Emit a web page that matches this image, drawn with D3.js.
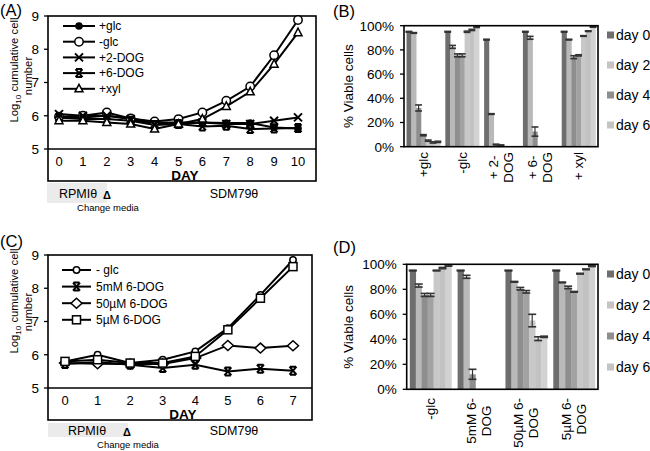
<!DOCTYPE html>
<html><head><meta charset="utf-8">
<script src="https://cdn.jsdelivr.net/npm/d3@7/dist/d3.min.js"></script>
<style>body{margin:0;background:#fff}svg{display:block;font-family:"Liberation Sans",Arial,sans-serif}</style>
</head><body><svg id="c" width="650" height="451"></svg>
<script>
// ---------- DATA ----------
// Panel A: log10 cumulative cell number vs day
const daysA = [0,1,2,3,4,5,6,7,8,9,10];
const namesA = ["+glc","-glc","+2-DOG","+6-DOG","+xyl"];
const aGlcPlus  = [5.95,5.95,6.0,5.92,5.8,5.8,5.8,5.78,5.78,5.65,5.62];
const aGlcMinus = [5.97,6.0,6.1,5.92,5.83,5.9,6.1,6.45,6.88,7.82,8.88];
const a2DOG     = [6.05,6.0,6.0,5.9,5.75,5.75,5.8,5.75,5.75,5.85,5.95];
const a6DOG     = [5.95,5.9,5.9,5.85,5.72,5.75,5.68,5.7,5.6,5.62,5.63];
const aXyl      = [5.85,5.85,5.8,5.75,5.6,5.75,5.9,6.28,6.72,7.55,8.5];
const yTicksLine = [5,6,7,8,9];

// Panel C
const daysC = [0,1,2,3,4,5,6,7];
const namesC = ["- glc","5mM  6-DOG","50µM 6-DOG","5µM 6-DOG"];
const cGlcMinus = [5.8,6.0,5.75,5.85,6.1,6.8,7.8,8.85];
const c5mM      = [5.72,5.78,5.7,5.6,5.7,5.5,5.58,5.52];
const c50uM     = [5.75,5.73,5.72,5.72,5.9,6.28,6.2,6.27];
const c5uM      = [5.8,5.85,5.75,5.75,5.95,6.75,7.7,8.65];

// Panel B: % viable cells, series = day 0..6 (one value per category)
const catsB = [["+glc"],["-glc"],["+ 2-","DOG"],["+ 6-","DOG"],["+ xyl"]];
const bDay0 = [95,95,88.5,95,95];
const bDay1 = [94,82.5,27,90,88.5];
const bDay2 = [32,75.5,1.8,12.5,74];
const bDay3 = [9.5,75.5,1.2,0,75.5];
const bDay4 = [5,95,0,0,91.5];
const bDay5 = [3.5,96.5,0,0,95.5];
const bDay6 = [4,99,0,0,99];
const bErr0 = [0.3,0.3,0.3,0.3,0.3];
const bErr1 = [0.3,1.2,0.3,1.2,0.3];
const bErr2 = [2.5,1.2,0.3,3.8,1.2];
const bErr3 = [0.5,1.2,0.3,0,0.5];
const bErr4 = [0.5,0.5,0,0,0.3];
const bErr5 = [0.5,0.5,0,0,0.3];
const bErr6 = [0.5,0.5,0,0,0.3];

// Panel D
const catsD = [["-glc"],["5mM 6-","DOG"],["50µM 6-","DOG"],["5µM 6-","DOG"]];
const dDay0 = [95,95,95,95];
const dDay1 = [83,90,86,85.5];
const dDay2 = [75.5,12,80.5,81.5];
const dDay3 = [75.5,0,78,78];
const dDay4 = [95,0,55,92.5];
const dDay5 = [97,0,40.5,96];
const dDay6 = [99,0,42,98.5];
const dErr0 = [0.3,0.3,0.3,0.3];
const dErr1 = [1.2,1.2,0.3,0.3];
const dErr2 = [1.2,4,1,1];
const dErr3 = [1.2,0,1,0.3];
const dErr4 = [0.3,0,5,0.3];
const dErr5 = [0.5,0,1.5,0.3];
const dErr6 = [0.5,0,0.5,0.3];

const legendDays = ["day 0","day 2","day 4","day 6"];
const yTicksBar = [0,20,40,60,80,100];

// ---------- STYLES ----------
const barColors = ["#6e6e6e","#b9b9b9","#8e8e8e","#a2a2a2","#c8c8c8","#c2c2c2","#d2d2d2"];
const legendColors = ["#6e6e6e","#c4c4c4","#8e8e8e","#c4c4c4"];

const svg = d3.select("#c");

function marker(g, type, x, y){
  const s = "#000";
  if(type==="fcircle") g.append("circle").attr("cx",x).attr("cy",y).attr("r",3.8).attr("fill",s);
  else if(type==="ocircle") g.append("circle").attr("cx",x).attr("cy",y).attr("r",4.2).attr("fill","#fff").attr("stroke",s).attr("stroke-width",1.5);
  else if(type==="scircle") g.append("circle").attr("cx",x).attr("cy",y).attr("r",3.2).attr("fill","#fff").attr("stroke",s).attr("stroke-width",1.5);
  else if(type==="x") g.append("path").attr("d",`M${x-4},${y-4}L${x+4},${y+4}M${x-4},${y+4}L${x+4},${y-4}`).attr("stroke",s).attr("stroke-width",2).attr("fill","none");
  else if(type==="xbar") g.append("path").attr("d",`M${x-3.5},${y-4}L${x+3.5},${y+4}M${x-3.5},${y+4}L${x+3.5},${y-4}M${x-3},${y-4}L${x+3},${y-4}M${x-3},${y+4}L${x+3},${y+4}`).attr("stroke",s).attr("stroke-width",2).attr("fill","none");
  else if(type==="tri") g.append("path").attr("d",`M${x},${y-4.5}L${x+4},${y+3}L${x-4},${y+3}Z`).attr("fill","#fff").attr("stroke",s).attr("stroke-width",1.5);
  else if(type==="square") g.append("rect").attr("x",x-4).attr("y",y-4).attr("width",8).attr("height",8).attr("fill","#fff").attr("stroke",s).attr("stroke-width",1.5);
  else if(type==="diamond") g.append("path").attr("d",`M${x},${y-5}L${x+5.5},${y}L${x},${y+5}L${x-5.5},${y}Z`).attr("fill","#fff").attr("stroke",s).attr("stroke-width",1.5);
}

function ytitleLine(g, cx1, cy1, cx2, cy2){
  const t = g.append("text").attr("transform",`translate(${cx1},${cy1}) rotate(-90)`)
    .attr("text-anchor","middle").attr("dy","0.35em").attr("font-size",11.3);
  t.append("tspan").text("Log");
  t.append("tspan").attr("font-size",8).attr("dy","3").text("10");
  t.append("tspan").attr("dy","-3").text(" cumulative cell");
  g.append("text").attr("transform",`translate(${cx2},${cy2}) rotate(-90)`)
    .attr("text-anchor","middle").attr("dy","0.35em").attr("font-size",11.3).text("number");
}

function drawLine(cfg){
  const g = svg.append("g");
  const x = d3.scaleLinear().domain(d3.extent(cfg.days)).range(cfg.xr);
  const y = d3.scaleLinear().domain([5,9]).range([cfg.axisY, cfg.top]);
  // frame
  g.append("rect").attr("x",cfg.x0).attr("y",cfg.top).attr("width",cfg.x1-cfg.x0).attr("height",cfg.bottom-cfg.top)
    .attr("fill","none").attr("stroke","#000").attr("stroke-width",1.6);
  g.append("line").attr("x1",cfg.x0).attr("x2",cfg.x1).attr("y1",cfg.axisY).attr("y2",cfg.axisY).attr("stroke","#000").attr("stroke-width",1.6);
  // y ticks
  yTicksLine.forEach(v=>{
    g.append("line").attr("x1",cfg.x0-4).attr("x2",cfg.x0).attr("y1",y(v)).attr("y2",y(v)).attr("stroke","#000").attr("stroke-width",1.3);
    g.append("text").attr("x",cfg.x0-9).attr("y",y(v)).attr("dy","0.36em").attr("text-anchor","end").attr("font-size",13.5).text(v);
  });
  // x tick labels
  cfg.days.forEach(d=>{
    g.append("text").attr("x",x(d)).attr("y",cfg.tickY).attr("dy","0.36em").attr("text-anchor","middle").attr("font-size",13).text(d);
  });
  g.append("text").attr("x",(cfg.x0+cfg.x1)/2+3).attr("y",cfg.dayY).attr("dy","0.36em").attr("text-anchor","middle")
    .attr("font-size",13.5).attr("font-weight","bold").text("DAY");
  // lines
  const line = d3.line().x((d,i)=>x(cfg.days[i])).y(d=>y(d));
  cfg.series.forEach(s=>{
    g.append("path").attr("d",line(s.vals)).attr("fill","none").attr("stroke","#000").attr("stroke-width",2);
  });
  cfg.series.forEach(s=>{
    s.vals.forEach((v,i)=>marker(g,s.type,x(cfg.days[i]),y(v)));
  });
  // legend
  cfg.series.forEach((s,i)=>{
    const ly = cfg.leg.y0 + i*cfg.leg.dy;
    g.append("line").attr("x1",cfg.leg.lx0).attr("x2",cfg.leg.lx1).attr("y1",ly).attr("y2",ly).attr("stroke","#000").attr("stroke-width",2);
    marker(g,s.type,(cfg.leg.lx0+cfg.leg.lx1)/2,ly);
    g.append("text").attr("x",cfg.leg.tx).attr("y",ly).attr("dy","0.36em").attr("font-size",12).text(s.name);
  });
  // media annotation
  const m = cfg.media;
  g.append("rect").attr("x",m.rx0).attr("y",m.ry0).attr("width",m.rx1-m.rx0).attr("height",m.ry1-m.ry0).attr("fill","#ebebeb");
  g.append("text").attr("x",m.rpx).attr("y",m.by).attr("text-anchor","middle").attr("font-size",12.5).text("RPMIθ");
  g.append("text").attr("x",m.sdx).attr("y",m.by).attr("text-anchor","middle").attr("font-size",12.5).text("SDM79θ");
  g.append("text").attr("x",m.trx).attr("y",m.by+1).attr("text-anchor","middle").attr("font-size",11).attr("font-weight","bold").text("Δ");
  g.append("text").attr("x",m.chx).attr("y",m.chy).attr("text-anchor","middle").attr("font-size",9.5).text("Change media");
  ytitleLine(g, cfg.t1[0], cfg.t1[1], cfg.t2[0], cfg.t2[1]);
}

function drawBars(cfg){
  const g = svg.append("g");
  const y = d3.scaleLinear().domain([0,100]).range([cfg.yb, cfg.yt]);
  const x0 = d3.scaleBand().domain(d3.range(cfg.cats.length)).range([cfg.xl, cfg.xr]).paddingInner(0.13).paddingOuter(0.065);
  const x1 = d3.scaleBand().domain(d3.range(cfg.vals.length)).range([0, x0.bandwidth()]);
  cfg.vals.forEach((ser,si)=>{
    ser.forEach((v,ci)=>{
      if(v<=0) return;
      const bx = x0(ci)+x1(si);
      g.append("rect").attr("x",bx).attr("y",y(v)).attr("width",x1.bandwidth()+0.3).attr("height",y(0)-y(v)).attr("fill",barColors[si]);
    });
  });
  // error bars
  cfg.vals.forEach((ser,si)=>{
    ser.forEach((v,ci)=>{
      if(v<=0) return;
      const e = cfg.errs[si][ci];
      const cx = x0(ci)+x1(si)+x1.bandwidth()/2;
      const hw = x1.bandwidth()/2+1;
      const yl = y(v-e), yh = y(v+e);
      g.append("line").attr("x1",cx).attr("x2",cx).attr("y1",yl).attr("y2",yh).attr("stroke","#333").attr("stroke-width",1.2);
      [yl,yh].forEach(yy=>g.append("line").attr("x1",cx-hw).attr("x2",cx+hw).attr("y1",yy).attr("y2",yy).attr("stroke","#333").attr("stroke-width",1.6));
    });
  });
  // frame
  g.append("rect").attr("x",cfg.xl).attr("y",cfg.yt).attr("width",cfg.xr-cfg.xl).attr("height",cfg.yb-cfg.yt)
    .attr("fill","none").attr("stroke","#000").attr("stroke-width",1.6);
  yTicksBar.forEach(v=>{
    g.append("line").attr("x1",cfg.xl-4).attr("x2",cfg.xl).attr("y1",y(v)).attr("y2",y(v)).attr("stroke","#000").attr("stroke-width",1.3);
    g.append("text").attr("x",cfg.xl-10).attr("y",y(v)).attr("dy","0.36em").attr("text-anchor","end").attr("font-size",13.5).text(v+"%");
  });
  g.append("text").attr("transform",`translate(${cfg.tx},${(cfg.yt+cfg.yb)/2}) rotate(-90)`).attr("text-anchor","middle")
    .attr("dy","0.35em").attr("font-size",13.5).text("% Viable cells");
  // category labels
  cfg.cats.forEach((lines,ci)=>{
    const cx = x0(ci)+x0.bandwidth()/2;
    const tmp = lines.map((l,li)=>g.append("text").attr("font-size",13.5).attr("text-anchor","middle").attr("dy","0.35em").text(l));
    const L = d3.max(tmp, t=>t.node().getComputedTextLength());
    tmp.forEach((t,li)=>{
      const xx = cx + (li-(lines.length-1)/2)*15;
      t.attr("transform",`translate(${xx},${cfg.labTop+L/2}) rotate(-90)`);
    });
  });
  // legend
  legendDays.forEach((d,i)=>{
    const ly = cfg.legY0 + i*cfg.legDy;
    g.append("rect").attr("x",607).attr("y",ly-3.5).attr("width",7).attr("height",7).attr("fill",legendColors[i]);
    g.append("text").attr("x",616).attr("y",ly).attr("dy","0.36em").attr("font-size",14).text(d);
  });
}

// Panel A
drawLine({
  days: daysA, xr:[59,298], x0:48, x1:316, top:16, axisY:149, bottom:181, tickY:161, dayY:175.5,
  series:[
    {name:namesA[0], vals:aGlcPlus, type:"fcircle"},
    {name:namesA[1], vals:aGlcMinus, type:"ocircle"},
    {name:namesA[2], vals:a2DOG, type:"x"},
    {name:namesA[3], vals:a6DOG, type:"xbar"},
    {name:namesA[4], vals:aXyl, type:"tri"}
  ],
  leg:{y0:26, dy:15.7, lx0:63, lx1:95, tx:99},
  media:{rx0:47, rx1:107, ry0:183, ry1:203, rpx:78, sdx:234, by:198, trx:107, chx:108, chy:211},
  t1:[14,70], t2:[28,76]
});
// Panel C
drawLine({
  days: daysC, xr:[65,293], x0:48, x1:312, top:255, axisY:388, bottom:420, tickY:400.5, dayY:414,
  series:[
    {name:namesC[0], vals:cGlcMinus, type:"scircle"},
    {name:namesC[1], vals:c5mM, type:"xbar"},
    {name:namesC[2], vals:c50uM, type:"diamond"},
    {name:namesC[3], vals:c5uM, type:"square"}
  ],
  leg:{y0:270, dy:16.6, lx0:62, lx1:91, tx:96},
  media:{rx0:48, rx1:128, ry0:423, ry1:437, rpx:87, sdx:234, by:435, trx:127, chx:128, chy:448},
  t1:[14,301], t2:[28,312]
});
// Panel B
drawBars({
  cats:catsB, vals:[bDay0,bDay1,bDay2,bDay3,bDay4,bDay5,bDay6], errs:[bErr0,bErr1,bErr2,bErr3,bErr4,bErr5,bErr6],
  xl:404, xr:598, yt:25.7, yb:146.7, tx:348, labTop:152, legY0:35, legDy:30
});
// Panel D
drawBars({
  cats:catsD, vals:[dDay0,dDay1,dDay2,dDay3,dDay4,dDay5,dDay6], errs:[dErr0,dErr1,dErr2,dErr3,dErr4,dErr5,dErr6],
  xl:406.7, xr:598, yt:264.3, yb:389.3, tx:348, labTop:398, legY0:274, legDy:31
});

// panel letters
[["(A)",0,16],["(B)",333,17],["(C)",0,247],["(D)",333,253]].forEach(([t,x,y])=>{
  svg.append("text").attr("x",x).attr("y",y).attr("font-size",16.5).text(t);
});
</script></body></html>
